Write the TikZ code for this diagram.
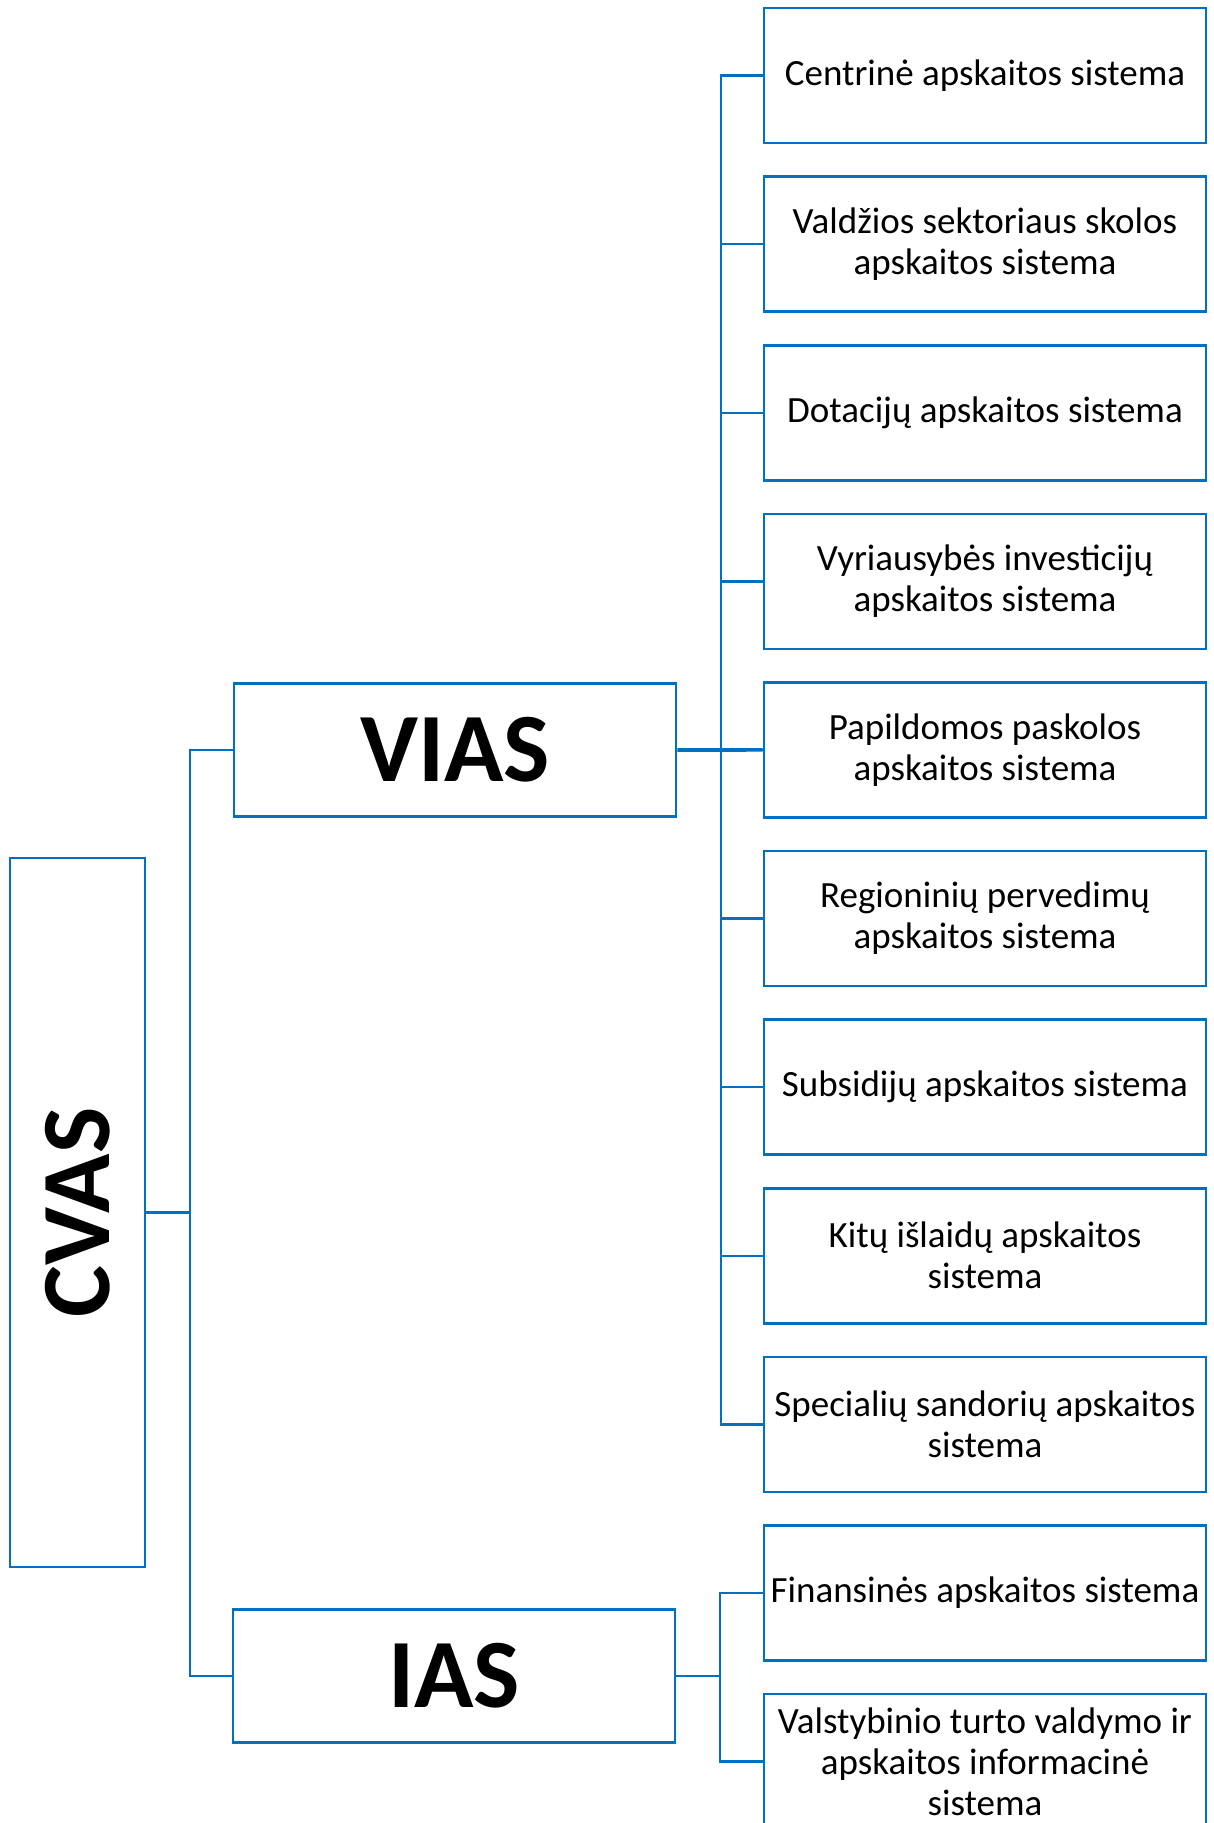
\documentclass[tikz,border=0pt]{standalone}
\usepackage{fontspec}
\setmainfont{Carlito}
\usetikzlibrary{positioning}
\definecolor{boxblue}{HTML}{0070C0}
\tikzset{
  sysbox/.style={draw=boxblue, line width=2.6pt, minimum width=442pt, minimum height=135pt,
    inner sep=0pt, align=center, font=\fontsize{37}{41}\selectfont},
  headbox/.style={draw=boxblue, line width=2.6pt, minimum width=442pt, minimum height=133pt,
    inner sep=0pt, font=\fontsize{98}{110}\selectfont\bfseries},
  link/.style={draw=boxblue, line width=2.4pt}
}
\begin{document}
\begin{tikzpicture}[x=1pt,y=-1pt]
        \useasboundingbox (0,0) rectangle (1213,1823);
        % top levels
        \node[headbox, minimum width=135pt, minimum height=709pt] (cvas) at (77.5,1212.5) {\rotatebox{90}{CVAS}};
        \node[headbox] (vias) at (455,750) {VIAS};
        \node[headbox] (ias) at (454,1676) {IAS};
        \coordinate (lbus) at (190,1212.5);
        \coordinate (vbus) at (721,750);
        \coordinate (ibus) at (720,1676);
        \draw[link] (cvas.east) -- (lbus);
        \draw[link] (vias.west) -| (lbus) |- (ias.west);
        % VIAS systems
        \foreach \i/\txt in {1/{Centrinė apskaitos sistema},
                             2/{Valdžios sektoriaus skolos\\apskaitos sistema},
                             3/{Dotacijų apskaitos sistema},
                             4/{Vyriausybės investicijų\\apskaitos sistema},
                             5/{Papildomos paskolos\\apskaitos sistema},
                             6/{Regioninių pervedimų\\apskaitos sistema},
                             7/{Subsidijų apskaitos sistema},
                             8/{Kitų išlaidų apskaitos\\sistema},
                             9/{Specialių sandorių apskaitos\\sistema}} {
            \node[sysbox] (v\i) at (985,{75.5+168.6*(\i-1)}) {\txt};
            \draw[link] (vbus) |- (v\i.west);
        }
        \draw[link, line width=3.6pt] (vias.east) -- (vbus) -- (v5.west);
        % IAS systems
        \node[sysbox] (f1) at (985,1592.9) {Finansinės apskaitos sistema};
        \node[sysbox] (f2) at (985,1761.5) {Valstybinio turto valdymo ir\\apskaitos informacinė\\sistema};
        \draw[link] (ias.east) -- (ibus);
        \draw[link] (f1.west) -| (ibus) |- (f2.west);
\end{tikzpicture}
\end{document}
